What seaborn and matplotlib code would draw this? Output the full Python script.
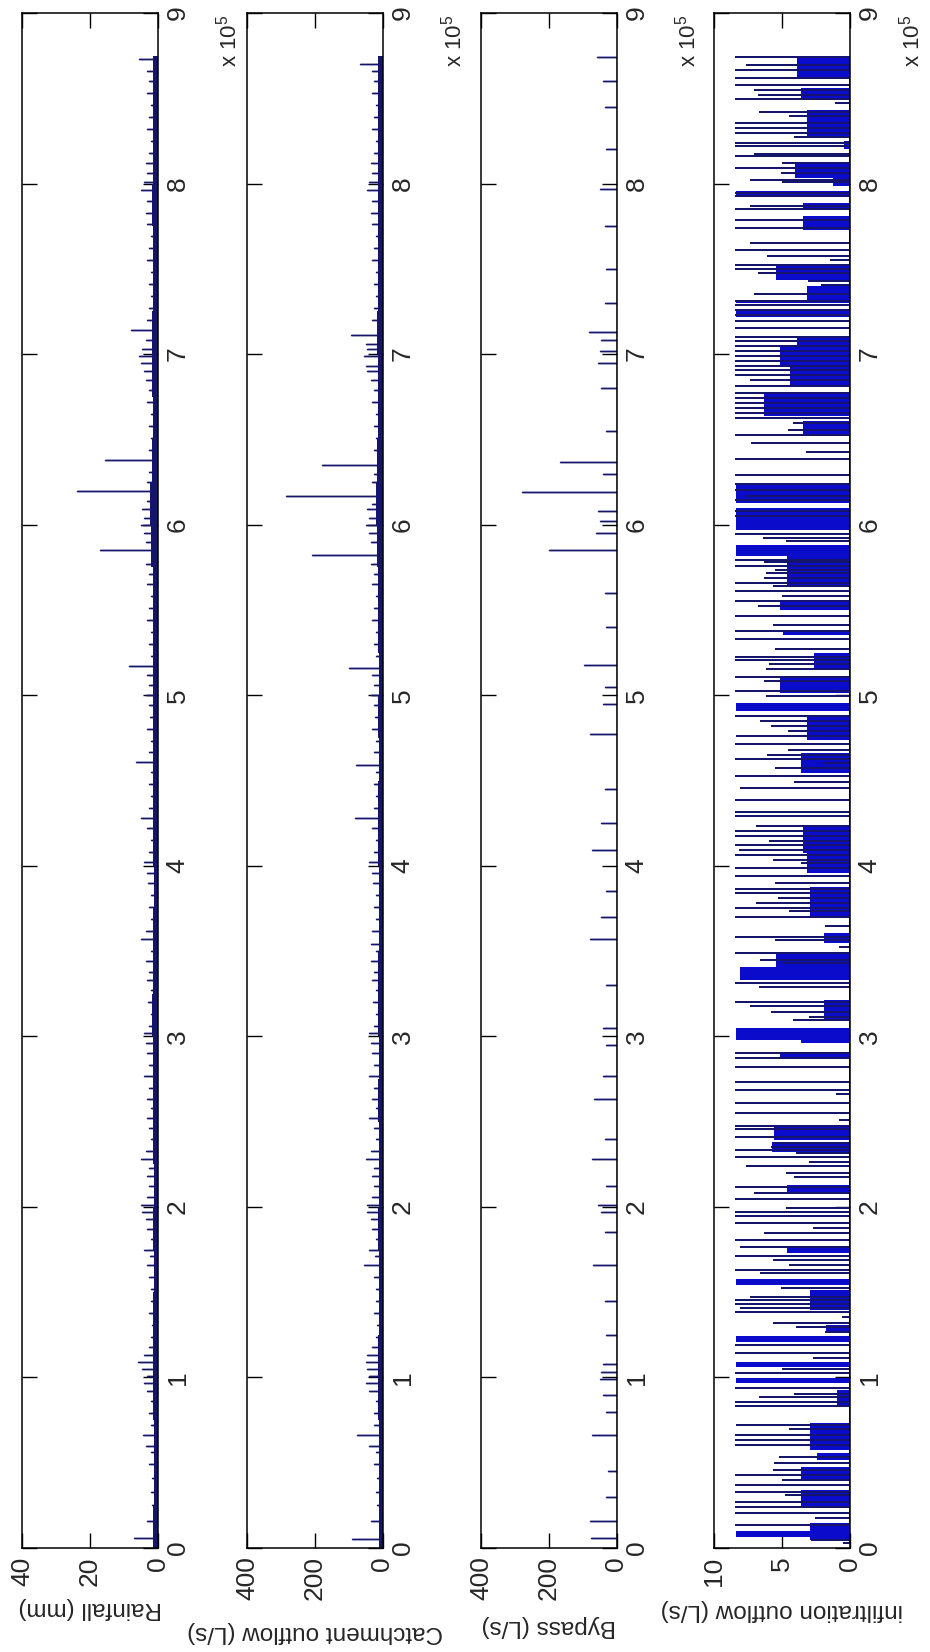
import numpy as np
import pandas as pd
import matplotlib
matplotlib.use("Agg")
import matplotlib.pyplot as plt
import seaborn as sns

# ---------------- data (time axis in units of 1e5) ----------------
time_ticks = [0, 1, 2, 3, 4, 5, 6, 7, 8, 9]

rain_t = [0.06, 0.16, 0.25, 0.33, 0.41, 0.49, 0.56, 0.60, 0.66, 0.72,
          0.79, 0.86, 0.92, 0.97, 1.01, 1.05, 1.09, 1.13, 1.18, 1.24,
          1.31, 1.38, 1.45, 1.52, 1.59, 1.66, 1.71, 1.75, 1.81, 1.87,
          1.93, 1.97, 2.01, 2.06, 2.12, 2.18, 2.23, 2.28, 2.33, 2.40,
          2.46, 2.52, 2.58, 2.63, 2.70, 2.77, 2.83, 2.90, 2.96, 3.02,
          3.06, 3.13, 3.20, 3.27, 3.33, 3.38, 3.44, 3.50, 3.57, 3.62,
          3.69, 3.76, 3.83, 3.90, 3.96, 4.02, 4.08, 4.15, 4.22, 4.28,
          4.34, 4.41, 4.48, 4.55, 4.61, 4.67, 4.73, 4.80, 4.87, 4.94,
          5.00, 5.06, 5.12, 5.17, 5.23, 5.30, 5.37, 5.44, 5.51, 5.58,
          5.65, 5.71, 5.77, 5.85, 5.90, 5.95, 6.00, 6.04, 6.09, 6.14,
          6.20, 6.25, 6.31, 6.38, 6.44, 6.51, 6.58, 6.65, 6.72, 6.79,
          6.85, 6.90, 6.95, 6.99, 7.03, 7.08, 7.14, 7.20, 7.27, 7.34,
          7.41, 7.48, 7.55, 7.62, 7.69, 7.76, 7.83, 7.90, 7.96, 8.01,
          8.06, 8.12, 8.18, 8.25, 8.32, 8.39, 8.46, 8.53, 8.60, 8.66,
          8.73]
rain_v = [7.0, 3.0, 1.5, 2.0, 1.5, 2.5, 1.8, 3.5, 4.4, 2.0,
          2.5, 1.8, 3.0, 4.0, 3.2, 4.5, 5.7, 4.0, 2.5, 2.0,
          1.5, 2.5, 2.0, 1.8, 2.5, 3.0, 2.2, 4.0, 2.0, 3.0,
          3.5, 4.5, 5.0, 3.0, 2.5, 3.2, 2.5, 5.0, 3.5, 2.0,
          2.5, 3.0, 2.0, 3.0, 2.5, 4.0, 2.5, 3.0, 3.5, 4.0,
          2.5, 2.0, 2.8, 2.0, 3.0, 2.5, 3.5, 2.0, 5.0, 3.5,
          2.0, 2.5, 2.0, 2.8, 3.0, 4.0, 2.5, 2.0, 3.0, 5.0,
          2.5, 2.0, 2.5, 2.0, 6.4, 2.5, 2.0, 3.0, 2.2, 2.5,
          3.5, 2.5, 3.0, 8.4, 2.0, 2.5, 2.0, 3.0, 2.5, 2.0,
          3.0, 2.5, 3.5, 17.0, 3.5, 4.0, 5.0, 4.0, 4.5, 3.0,
          23.8, 3.0, 2.5, 15.4, 2.5, 2.0, 2.5, 2.0, 3.0, 2.5,
          3.5, 4.0, 5.0, 5.5, 4.5, 3.5, 7.9, 3.0, 2.5, 2.0,
          2.5, 2.0, 3.0, 2.5, 2.0, 3.0, 3.5, 3.0, 5.0, 4.0,
          3.0, 3.5, 2.5, 2.0, 3.0, 2.5, 2.0, 3.0, 2.5, 3.0,
          5.4]

catch_t = [0.05, 0.16, 0.25, 0.33, 0.41, 0.49, 0.56, 0.60, 0.66, 0.72,
           0.79, 0.86, 0.92, 0.97, 1.01, 1.05, 1.09, 1.13, 1.18, 1.24,
           1.31, 1.38, 1.45, 1.52, 1.59, 1.66, 1.71, 1.75, 1.81, 1.87,
           1.93, 1.97, 2.01, 2.06, 2.12, 2.18, 2.23, 2.28, 2.33, 2.40,
           2.46, 2.52, 2.58, 2.63, 2.70, 2.77, 2.83, 2.90, 2.96, 3.02,
           3.06, 3.13, 3.20, 3.27, 3.33, 3.38, 3.44, 3.50, 3.54, 3.62,
           3.69, 3.76, 3.83, 3.90, 3.96, 4.02, 4.08, 4.15, 4.22, 4.28,
           4.34, 4.41, 4.48, 4.55, 4.59, 4.67, 4.73, 4.80, 4.87, 4.94,
           5.00, 5.06, 5.12, 5.16, 5.23, 5.30, 5.37, 5.44, 5.51, 5.58,
           5.65, 5.71, 5.77, 5.82, 5.90, 5.95, 6.00, 6.04, 6.09, 6.12,
           6.17, 6.25, 6.30, 6.35, 6.44, 6.51, 6.58, 6.65, 6.72, 6.79,
           6.85, 6.90, 6.93, 6.99, 7.03, 7.06, 7.11, 7.20, 7.27, 7.34,
           7.41, 7.48, 7.55, 7.62, 7.69, 7.76, 7.83, 7.90, 7.96, 8.01,
           8.06, 8.12, 8.18, 8.25, 8.32, 8.39, 8.46, 8.53, 8.60, 8.66,
           8.70]
catch_v = [89, 35, 15, 20, 15, 25, 18, 40, 75, 25,
           25, 20, 40, 50, 40, 45, 50, 45, 30, 20,
           15, 25, 20, 18, 25, 55, 22, 40, 20, 30,
           35, 45, 45, 30, 25, 32, 25, 50, 35, 20,
           25, 40, 20, 30, 25, 40, 25, 30, 35, 40,
           25, 20, 28, 20, 30, 25, 35, 20, 35, 30,
           20, 25, 20, 28, 30, 40, 25, 20, 30, 80,
           25, 20, 25, 20, 78, 25, 20, 30, 22, 25,
           35, 25, 30, 100, 20, 25, 20, 30, 25, 20,
           30, 25, 35, 208, 35, 40, 50, 40, 45, 30,
           284, 30, 25, 179, 25, 20, 25, 20, 30, 25,
           35, 45, 50, 55, 45, 50, 93, 30, 25, 20,
           25, 20, 30, 25, 20, 30, 35, 30, 45, 40,
           30, 35, 25, 20, 30, 25, 20, 30, 25, 30,
           65]

bypass_t = [0.06, 0.16, 0.30, 0.45, 0.66, 0.80, 0.90, 0.99, 1.03, 1.08,
            1.25, 1.45, 1.66, 1.85, 1.97, 2.01, 2.12, 2.28, 2.40, 2.63,
            2.77, 2.95, 3.05, 3.30, 3.57, 3.70, 3.85, 4.09, 4.25, 4.45,
            4.77, 4.95, 5.05, 5.18, 5.40, 5.60, 5.85, 5.95, 6.02, 6.08,
            6.19, 6.30, 6.37, 6.55, 6.80, 6.95, 7.02, 7.08, 7.13, 7.30,
            7.50, 7.75, 7.97, 8.20, 8.45, 8.60, 8.74]
bypass_v = [74, 79, 30, 25, 72, 30, 40, 50, 45, 40,
            30, 35, 69, 35, 45, 55, 30, 72, 35, 67,
            40, 30, 40, 30, 77, 45, 30, 72, 45, 35,
            77, 40, 35, 95, 30, 35, 198, 60, 50, 55,
            278, 40, 168, 30, 45, 55, 50, 45, 82, 35,
            30, 35, 50, 30, 35, 40, 59]

# dense low-level fringe (step levels on 0.25-wide time bins)
fuzz_t = [0.00, 0.25, 0.50, 0.75, 1.00, 1.25, 1.50, 1.75, 2.00, 2.25,
          2.50, 2.75, 3.00, 3.25, 3.50, 3.75, 4.00, 4.25, 4.50, 4.75,
          5.00, 5.25, 5.50, 5.75, 6.00, 6.25, 6.50, 6.75, 7.00, 7.25,
          7.50, 7.75, 8.00, 8.25, 8.50, 8.75]
rain_fuzz = [1.2, 1.0, 1.1, 1.3, 1.4, 1.2, 1.0, 1.3, 1.1, 1.2,
             1.4, 1.2, 1.5, 1.3, 1.2, 1.1, 1.3, 1.4, 1.2, 1.3,
             1.2, 1.4, 1.3, 1.8, 2.2, 1.6, 1.4, 1.5, 1.6, 1.4,
             1.3, 1.5, 1.4, 1.3, 1.4, 1.4]
catch_fuzz = [10, 9, 10, 12, 13, 11, 9, 12, 10, 11,
              13, 11, 14, 12, 11, 10, 12, 13, 11, 12,
              11, 13, 12, 17, 20, 15, 13, 14, 15, 13,
              12, 14, 13, 12, 13, 13]

infil_t = [8.743, 8.698, 8.665, 8.620, 8.575, 8.547, 8.522, 8.496, 8.473, 8.418,
           8.395, 8.356, 8.326, 8.297, 8.274, 8.238, 8.219, 8.176, 8.160, 8.121,
           8.092, 8.062, 8.023, 8.008, 7.945, 7.926, 7.867, 7.851, 7.785, 7.740,
           7.652, 7.609, 7.578, 7.554, 7.521, 7.500, 7.476, 7.431, 7.408, 7.355,
           7.310, 7.290, 7.261, 7.232, 7.192, 7.153, 7.100, 7.075, 7.046, 7.017,
           6.991, 6.958, 6.929, 6.905, 6.880, 6.850, 6.811, 6.772, 6.743, 6.714,
           6.684, 6.655, 6.625, 6.596, 6.557, 6.528, 6.479, 6.424, 6.385, 6.293,
           6.240, 6.205, 6.170, 6.146, 6.078, 6.049,
           5.947, 5.921, 5.902, 5.794, 5.779, 5.759, 5.736, 5.716, 5.687, 5.658,
           5.638, 5.609, 5.583, 5.550, 5.525, 5.466, 5.413, 5.374, 5.329, 5.270,
           5.227, 5.208, 5.184, 5.153, 5.106, 5.081, 5.022, 4.993, 4.876, 4.846,
           4.817, 4.788, 4.762, 4.715, 4.680, 4.651, 4.625, 4.602, 4.573, 4.524,
           4.494, 4.455, 4.387, 4.318, 4.293, 4.234, 4.201, 4.172, 4.148, 4.123,
           4.093, 4.064, 4.035, 4.015, 3.986, 3.941, 3.898, 3.863, 3.840, 3.810,
           3.781, 3.751, 3.732, 3.699, 3.648, 3.585, 3.562, 3.523, 3.491, 3.448,
           3.429, 3.312, 3.292, 3.204, 3.179, 3.145, 3.116, 3.097,
           2.901, 2.871, 2.819, 2.735, 2.686, 2.662, 2.608, 2.549, 2.510, 2.474,
           2.455, 2.412, 2.373, 2.354, 2.334, 2.314, 2.295, 2.265, 2.240, 2.201,
           2.177, 2.119, 2.084, 2.044, 1.992, 1.972, 1.947, 1.904, 1.874, 1.849,
           1.806, 1.767, 1.712, 1.689, 1.659, 1.630, 1.610, 1.523, 1.474, 1.454,
           1.431, 1.405, 1.386, 1.356, 1.321, 1.298, 1.268, 1.190, 1.141, 1.112,
           1.047, 1.024, 0.936, 0.903, 0.883, 0.858, 0.832, 0.721, 0.695, 0.662,
           0.633, 0.604, 0.535, 0.496, 0.457, 0.428, 0.398, 0.369, 0.330, 0.311,
           0.271, 0.242, 0.203, 0.174, 0.135, 0.047, 0.027]
infil_v = [8.4, 7.6, 8.4, 8.4, 8.4, 7.0, 6.7, 8.4, 1.0, 6.6,
           4.4, 8.4, 8.4, 8.4, 4.0, 8.4, 8.4, 7.0, 8.4, 4.9,
           8.4, 5.0, 7.3, 4.9, 8.4, 8.4, 7.3, 8.4, 8.4, 8.4,
           7.3, 8.4, 6.0, 1.4, 8.4, 8.4, 6.7, 3.0, 2.0, 7.0,
           8.4, 8.4, 8.4, 8.4, 8.4, 8.4, 8.4, 8.4, 8.4, 8.4,
           8.4, 8.4, 8.4, 8.4, 8.4, 7.3, 8.4, 8.4, 8.4, 8.4,
           8.4, 8.4, 8.4, 4.1, 4.5, 8.4, 7.2, 3.1, 8.4, 8.4,
           8.4, 8.4, 7.6, 8.4, 8.4, 8.4,
           8.4, 6.3, 4.6, 8.4, 6.2, 8.4, 5.4, 6.1, 6.2, 8.4,
           5.6, 8.4, 4.9, 8.4, 6.7, 8.4, 5.6, 8.4, 8.4, 5.4,
           8.4, 8.4, 5.9, 6.1, 8.4, 6.2, 8.4, 6.1, 8.4, 6.5,
           5.7, 4.5, 8.3, 8.4, 4.5, 6.0, 8.4, 1.9, 5.4, 8.4,
           4.0, 8.0, 8.4, 8.4, 8.4, 6.8, 8.4, 8.4, 5.9, 8.4,
           8.1, 8.4, 5.6, 3.5, 8.4, 8.4, 5.4, 8.4, 8.4, 5.2,
           6.8, 8.4, 4.4, 8.4, 1.7, 8.4, 5.4, 0.7, 8.4, 6.5,
           4.9, 8.4, 6.6, 8.4, 7.3, 5.7, 2.9, 4.1,
           8.4, 8.4, 8.4, 8.4, 8.4, 0.9, 8.4, 8.4, 0.7, 8.4,
           8.4, 8.4, 5.6, 5.7, 8.4, 3.9, 8.4, 2.9, 7.6, 4.6,
           4.0, 8.4, 7.0, 8.4, 4.6, 8.4, 8.4, 8.4, 2.6, 6.2,
           8.4, 8.0, 8.4, 5.6, 4.4, 8.4, 6.5, 5.0, 7.3, 8.4,
           8.4, 8.0, 8.4, 0.5, 5.6, 3.9, 1.7, 8.4, 8.4, 2.6,
           4.9, 8.4, 8.4, 4.0, 6.6, 8.4, 8.4, 8.3, 4.4, 8.4,
           8.4, 8.4, 5.1, 5.5, 5.6, 8.4, 4.9, 8.4, 8.4, 4.7,
           8.4, 8.4, 8.4, 2.5, 8.4, 2.8, 0.4]

# dense blocks of the infiltration series: start, end, level
block_t0 = [8.620, 8.493, 8.277, 8.200, 8.033, 7.985, 7.927, 7.847, 7.730, 7.436,
            7.320, 7.300, 7.220, 7.046, 6.929, 6.812, 6.636, 6.519, 6.127, 6.030,
            5.970, 5.814, 5.638, 5.501, 5.354, 5.149, 5.012, 4.905, 4.739, 4.543,
            4.074, 3.957, 3.703, 3.546, 3.331, 3.409, 3.097, 2.979,
            2.960, 2.871, 2.393, 2.324, 2.090, 1.728, 1.542, 1.395, 1.258, 1.210,
            1.063, 0.965, 0.829, 0.574, 0.516, 0.398, 0.242, 0.047, 0.066]
block_t1 = [8.747, 8.561, 8.434, 8.250, 8.121, 8.033, 7.955, 7.887, 7.808, 7.515,
            7.400, 7.320, 7.260, 7.100, 7.046, 6.929, 6.772, 6.606, 6.240, 6.098,
            6.030, 5.882, 5.814, 5.560, 5.384, 5.247, 5.110, 4.954, 4.876, 4.660,
            4.230, 4.074, 3.878, 3.605, 3.409, 3.488, 3.214, 3.047,
            2.980, 2.910, 2.480, 2.383, 2.129, 1.767, 1.575, 1.513, 1.308, 1.243,
            1.092, 0.995, 0.927, 0.731, 0.555, 0.477, 0.340, 0.144, 0.101]
block_v = [3.9, 3.6, 3.1, 0.4, 4.0, 1.2, 8.4, 3.4, 3.4, 5.4,
           3.1, 8.4, 8.4, 3.9, 5.1, 4.4, 6.3, 3.4, 8.4, 8.4,
           8.4, 8.4, 4.6, 5.1, 4.9, 2.6, 5.1, 8.4, 3.1, 3.6,
           3.4, 3.1, 2.9, 1.9, 8.1, 5.4, 1.9, 8.4,
           3.6, 5.1, 5.6, 5.7, 4.6, 4.6, 8.4, 2.9, 1.7, 8.4,
           8.4, 8.4, 0.9, 2.9, 2.4, 3.6, 3.6, 2.9, 8.4]

panel_labels = ["Rainfall (mm)", "Catchment outflow (L/s)", "Bypass (L/s)",
                "infiltration outflow (L/s)"]
value_max = [40, 400, 400, 10]
value_ticks = [[40, 20, 0], [400, 200, 0], [400, 200, 0], [10, 5, 0]]

# ---------------- styling ----------------
sns.set_theme(style="white")
plt.rcParams["font.family"] = ["Liberation Sans", "DejaVu Sans"]
plt.rcParams["mathtext.fontset"] = "custom"
plt.rcParams["mathtext.rm"] = "Liberation Sans"

LINE = "#15156c"
FILL = "#0b0bcc"

W, H = 930, 1652
fig = plt.figure(figsize=(W / 100, H / 100), dpi=100, facecolor="white")
lefts = [22, 247, 481, 714]
ax_w = 135.5
top_px, bot_px = 13, 1548
label_y = [1608, 1632, 1626, 1610]
exp_offset = [71, 71, 71, 62]


def spike_frame(t, v):
    tt, vv = [], []
    for a, b in sorted(zip(t, v)):
        tt += [a, a, a]
        vv += [0, b, 0]
    return pd.DataFrame({"t": tt, "v": vv})


axes = []
for i in range(4):
    ax = fig.add_axes([lefts[i] / W, (H - bot_px) / H, ax_w / W, (bot_px - top_px) / H])
    axes.append(ax)

series = [(rain_t, rain_v, rain_fuzz), (catch_t, catch_v, catch_fuzz),
          (bypass_t, bypass_v, None)]
for i, (t, v, fz) in enumerate(series):
    ax = axes[i]
    if fz is not None:
        ax.fill_betweenx(fuzz_t, 0, fz, step="post", color=LINE, lw=0)
    sns.lineplot(data=spike_frame(t, v), x="v", y="t", orient="y", sort=False,
                 estimator=None, color=LINE, linewidth=1.0, ax=ax)

ax = axes[3]
for a, b, c in zip(block_t0, block_t1, block_v):
    ax.fill_betweenx([a, b], 0, c, color=FILL, lw=0)
sns.lineplot(data=spike_frame(infil_t, infil_v), x="v", y="t", orient="y", sort=False,
             estimator=None, color=LINE, linewidth=1.4, ax=ax)

for i, ax in enumerate(axes):
    ax.set_xlim(value_max[i], 0)
    ax.set_ylim(0, 9)
    ax.set_xticks(value_ticks[i])
    ax.set_xticklabels([str(x) for x in value_ticks[i]])
    ax.set_yticks(time_ticks)
    ax.set_yticklabels([str(x) for x in time_ticks])
    ax.tick_params(axis="x", direction="in", top=True, bottom=True, length=10.5,
                   width=1.0, color="black", labelsize=19, labelrotation=90, pad=6)
    ax.tick_params(axis="y", direction="in", left=True, right=True, labelleft=False,
                   labelright=True, length=10.5, width=1.0, color="black",
                   labelsize=19, labelrotation=90, pad=6)
    for lbl in ax.get_yticklabels():
        lbl.set_verticalalignment("center")
    for s in ax.spines.values():
        s.set_color("black")
        s.set_linewidth(1.1)
    ax.set_ylabel("")
    ax.set_xlabel(panel_labels[i], rotation=180, fontsize=17.5, va="center")
    ax.xaxis.set_label_coords(0.5, -(label_y[i] - bot_px) / (bot_px - top_px))
    ax.text(1 + exp_offset[i] / ax_w, 1 - 2 / (bot_px - top_px), r"x 10$^{\mathregular{5}}$",
            transform=ax.transAxes, rotation=90, ha="center", va="top", fontsize=16)
    ax.set_facecolor("white")

fig.savefig("out.png", dpi=100, facecolor="white")
